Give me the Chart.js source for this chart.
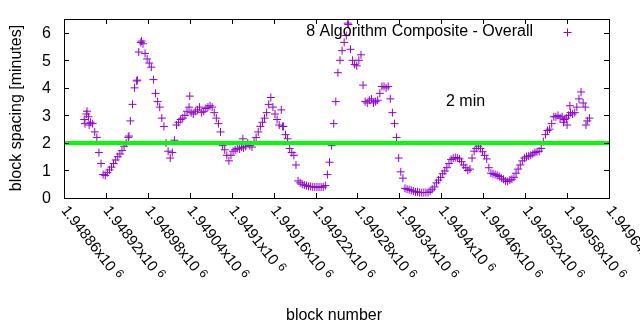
<!DOCTYPE html>
<html>
<head>
<meta charset="utf-8">
<script src="https://cdn.jsdelivr.net/npm/chart.js@4/dist/chart.umd.min.js"></script>
<style>
  html, body { margin: 0; padding: 0; background: #fff; }
  #wrap { width: 640px; height: 330px; }
</style>
</head>
<body>
<div id="wrap"><canvas id="c" width="640" height="330"></canvas></div>
<script>
// Block heights and the measured spacing (minutes) of the 8 algorithm composite
const blocks = [
  1948889,1948890,1948892,1948893,1948895,1948896,1948898,1948901,1948904,1948907,
  1948910,1948913,1948916,1948919,1948922,1948925,1948928,1948931,1948934,1948937,
  1948940,1948943,1948946,1948949,1948952,1948953,1948955,1948958,1948961,1948964,
  1948965,1948967,1948970,1948971,1948973,1948976,1948979,1948982,1948985,1948988,
  1948991,1948994,1948997,1949000,1949003,1949006,1949009,1949012,1949015,1949018,
  1949021,1949024,1949027,1949030,1949033,1949036,1949039,1949040,1949042,1949045,
  1949048,1949051,1949054,1949057,1949060,1949063,1949066,1949069,1949072,1949075,
  1949078,1949081,1949084,1949087,1949090,1949093,1949096,1949099,1949102,1949105,
  1949108,1949111,1949114,1949116,1949117,1949120,1949123,1949126,1949129,1949132,
  1949135,1949138,1949141,1949144,1949147,1949150,1949153,1949156,1949159,1949162,
  1949165,1949168,1949171,1949173,1949174,1949177,1949180,1949183,1949186,1949189,
  1949192,1949195,1949198,1949201,1949204,1949207,1949210,1949213,1949216,1949219,
  1949222,1949225,1949228,1949231,1949234,1949237,1949240,1949243,1949246,1949249,
  1949252,1949255,1949258,1949261,1949264,1949266,1949267,1949270,1949273,1949276,
  1949279,1949282,1949285,1949288,1949291,1949294,1949297,1949300,1949303,1949306,
  1949309,1949312,1949315,1949318,1949321,1949324,1949327,1949330,1949333,1949336,
  1949339,1949342,1949345,1949348,1949351,1949354,1949357,1949360,1949363,1949366,
  1949369,1949372,1949375,1949378,1949381,1949384,1949387,1949390,1949393,1949396,
  1949399,1949402,1949405,1949408,1949411,1949414,1949417,1949420,1949423,1949426,
  1949429,1949432,1949435,1949438,1949441,1949444,1949447,1949450,1949453,1949456,
  1949459,1949462,1949465,1949468,1949471,1949474,1949477,1949480,1949483,1949486,
  1949489,1949492,1949495,1949498,1949501,1949504,1949507,1949510,1949513,1949516,
  1949519,1949522,1949525,1949528,1949531,1949534,1949537,1949540,1949543,1949546,
  1949549,1949552,1949555,1949558,1949561,1949564,1949567,1949570,1949573,1949575,
  1949576,1949579,1949580,1949582,1949584,1949585,1949588,1949591,1949594,1949597,
  1949600,1949603,1949606,1949607,1949609,1949612
];
const spacing = [
  2.85,2.70,3.05,3.15,2.95,2.65,2.75,2.70,2.40,2.20,
  1.65,1.25,0.85,0.82,0.92,1.02,1.12,1.25,1.38,1.50,
  1.60,1.72,1.88,2.00,2.20,2.25,2.80,3.40,4.00,4.25,
  4.28,5.30,5.65,5.70,5.60,5.25,5.05,4.90,4.75,4.30,
  3.80,3.50,3.30,2.90,2.60,2.00,1.70,1.45,1.65,2.10,
  2.65,2.75,2.85,2.90,3.00,3.15,3.30,3.70,3.10,3.05,
  3.15,3.20,3.30,3.10,3.15,3.25,3.30,3.35,3.30,3.10,
  2.90,2.70,2.40,1.90,1.75,1.55,1.35,1.55,1.70,1.75,
  1.80,1.78,1.85,2.15,1.82,1.88,2.00,1.90,1.85,2.05,
  2.20,2.40,2.60,2.75,2.90,3.10,3.40,3.65,3.30,3.05,
  2.85,2.65,3.20,2.60,2.60,2.30,2.15,1.80,1.65,1.55,
  1.20,0.62,0.55,0.50,0.47,0.45,0.42,0.42,0.40,0.40,
  0.40,0.40,0.40,0.40,0.45,0.85,1.30,1.90,2.70,3.50,
  4.55,5.00,5.35,5.65,5.90,6.35,6.30,5.40,5.00,4.85,
  4.80,5.00,5.20,4.10,3.50,3.45,3.55,3.60,3.45,3.50,
  3.55,3.80,4.05,4.05,4.00,4.05,3.60,3.10,2.70,2.20,
  1.45,0.95,0.72,0.35,0.32,0.30,0.28,0.25,0.22,0.22,
  0.20,0.20,0.20,0.20,0.20,0.25,0.32,0.40,0.55,0.65,
  0.75,0.88,0.98,1.10,1.25,1.40,1.45,1.47,1.45,1.42,
  1.32,1.20,1.10,1.00,1.05,1.45,1.70,1.80,1.88,1.80,
  1.68,1.55,1.42,1.10,0.90,0.88,0.85,0.82,0.78,0.72,
  0.68,0.62,0.60,0.65,0.68,0.75,0.90,1.05,1.20,1.35,
  1.45,1.50,1.52,1.55,1.60,1.65,1.68,1.70,1.80,2.05,
  2.30,2.45,2.50,2.70,2.95,2.95,3.00,2.90,2.95,2.75,
  2.85,2.90,2.65,3.00,3.35,3.10,3.05,3.10,3.30,3.60,
  3.85,3.45,3.30,2.65,2.80,2.90
];
const targetSpacing = 2;            // 2 minute target
const xTickMantissas = ['1.94886','1.94892','1.94898','1.94904','1.9491','1.94916','1.94922',
                        '1.94928','1.94934','1.9494','1.94946','1.94952','1.94958','1.94964'];
const xTickExponent = '6';
const yTicks = [0, 1, 2, 3, 4, 5, 6];

const xTicks = xTickMantissas.map(m => Math.round(parseFloat(m) * 1e6));
const X_MIN = xTicks[0], X_MAX = xTicks[xTicks.length - 1];
const FONT = '"Liberation Sans", Arial, sans-serif';
const PURPLE = '#9400d3';

const points = blocks.map((b, i) => ({ x: b, y: spacing[i] }));

// Frame, inward tics, labels, key and annotation in the gnuplot style
const gnuplotDecor = {
  id: 'gnuplotDecor',
  afterDatasetsDraw(chart) {
    const ctx = chart.ctx;
    const a = chart.chartArea;
    const xs = chart.scales.x, ys = chart.scales.y;
    const tic = 5;
    ctx.save();
    ctx.strokeStyle = '#000';
    ctx.lineWidth = 1;
    ctx.beginPath();
    yTicks.forEach(v => {
      const y = Math.round(ys.getPixelForValue(v)) + 0.5;
      ctx.moveTo(a.left, y); ctx.lineTo(a.left + tic, y);
      ctx.moveTo(a.right, y); ctx.lineTo(a.right - tic, y);
    });
    xTicks.forEach(v => {
      const x = Math.round(xs.getPixelForValue(v)) + 0.5;
      ctx.moveTo(x, a.bottom); ctx.lineTo(x, a.bottom - tic);
      ctx.moveTo(x, a.top); ctx.lineTo(x, a.top + tic);
    });
    ctx.stroke();
    ctx.strokeRect(Math.round(a.left) + 0.5, Math.round(a.top) + 0.5,
                   Math.round(a.right - a.left), Math.round(a.bottom - a.top));

    ctx.fillStyle = '#000';
    // y tick labels
    ctx.font = '16px ' + FONT;
    ctx.textAlign = 'right';
    ctx.textBaseline = 'middle';
    yTicks.forEach(v => ctx.fillText(String(v), a.left - 13, ys.getPixelForValue(v) + 1));

    // x tick labels, rotated clockwise under each tic
    xTicks.forEach((v, i) => {
      const x = xs.getPixelForValue(v);
      ctx.save();
      ctx.translate(x, a.bottom + 10);
      ctx.rotate(52 * Math.PI / 180);
      ctx.textAlign = 'left';
      ctx.textBaseline = 'middle';
      ctx.font = '15px ' + FONT;
      const main = xTickMantissas[i] + 'x10 ';
      ctx.fillText(main, 0, 0);
      const w = ctx.measureText(main).width;
      ctx.font = '12px ' + FONT;
      ctx.fillText(xTickExponent, w, -3);
      ctx.restore();
    });

    // axis titles
    ctx.font = '16px ' + FONT;
    ctx.textAlign = 'center';
    ctx.textBaseline = 'middle';
    ctx.fillText('block number', 334, 316);
    ctx.save();
    ctx.translate(17, 108);
    ctx.rotate(-Math.PI / 2);
    ctx.fillText('block spacing [minutes]', 0, 0);
    ctx.restore();

    // key
    ctx.textAlign = 'right';
    ctx.fillText('8 Algorithm Composite - Overall', 533, 32);
    ctx.strokeStyle = PURPLE;
    ctx.beginPath();
    ctx.moveTo(563.5, 32.5); ctx.lineTo(571.5, 32.5);
    ctx.moveTo(567.5, 28.5); ctx.lineTo(567.5, 36.5);
    ctx.stroke();

    // target annotation
    ctx.textAlign = 'left';
    ctx.fillText('2 min', 446, 102);
    ctx.restore();
  }
};

new Chart(document.getElementById('c'), {
  type: 'scatter',
  data: {
    datasets: [
      {
        label: 'target',
        data: [{ x: X_MIN, y: targetSpacing }, { x: X_MAX, y: targetSpacing }],
        showLine: true,
        borderColor: '#00ff00',
        borderWidth: 4,
        pointRadius: 0,
        order: 0
      },
      {
        label: '8 Algorithm Composite - Overall',
        data: points,
        pointStyle: 'cross',
        pointRadius: 4,
        pointBorderWidth: 1,
        borderColor: PURPLE,
        backgroundColor: PURPLE,
        showLine: false,
        order: 1
      }
    ]
  },
  options: {
    responsive: false,
    animation: false,
    layout: { padding: { left: 64, right: 31, top: 19, bottom: 132 } },
    plugins: { legend: { display: false }, tooltip: { enabled: false } },
    scales: {
      x: { type: 'linear', min: X_MIN, max: X_MAX, display: false },
      y: { type: 'linear', min: 0, max: 6.5, display: false }
    }
  },
  plugins: [gnuplotDecor]
});
</script>
</body>
</html>
